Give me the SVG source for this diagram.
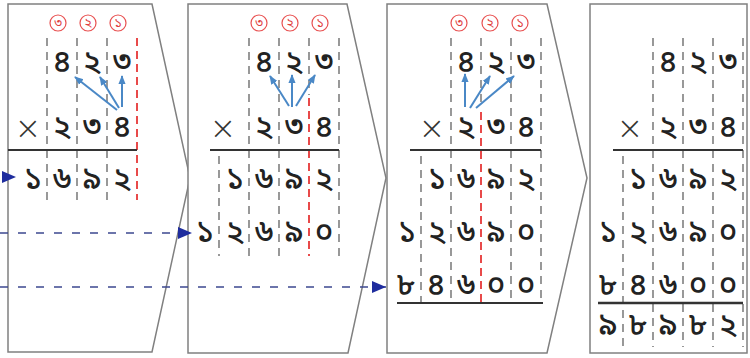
<svg xmlns="http://www.w3.org/2000/svg" width="750" height="358" viewBox="0 0 750 358">
<defs>
<marker id="tri" viewBox="0 0 14 12" refX="14" refY="6" markerWidth="14" markerHeight="12" markerUnits="userSpaceOnUse" orient="auto">
<path d="M0,0 L14,6 L0,12 Z" fill="#1f2d9e"/>
</marker>
<marker id="ba" viewBox="0 0 10 10" refX="9" refY="5" markerWidth="9" markerHeight="9" markerUnits="userSpaceOnUse" orient="auto">
<path d="M0,1 L10,5 L0,9 Z" fill="#4a88c6"/>
</marker>
</defs>
<style>
.panel{fill:#fff;stroke:#808080;stroke-width:1.5}
.g{stroke:#555;stroke-width:1.2;stroke-dasharray:8 6;fill:none}
.r{stroke:#e84a4a;stroke-width:2;stroke-dasharray:8 5;fill:none}
.ul{stroke:#333;stroke-width:2}
.d{font-family:"Noto Sans Bengali","Noto Sans","DejaVu Sans",sans-serif;font-size:31px;font-weight:500;fill:#222;text-anchor:middle}
.x{font-family:"DejaVu Sans","Liberation Sans",sans-serif;font-size:32px;font-weight:300;fill:#333;text-anchor:middle}
.c{fill:#fff;stroke:#e85050;stroke-width:1.2}
.ct{font-family:"Noto Sans Bengali","Noto Sans","DejaVu Sans",sans-serif;font-size:13px;fill:#e04040;text-anchor:middle}
.bl{stroke:#4a88c6;stroke-width:2;fill:none;marker-end:url(#ba)}
.nv{stroke:#3c4890;stroke-width:1.6;stroke-dasharray:8 10;fill:none;marker-end:url(#tri)}
</style>

<g id="panel1">
<polygon class="panel" points="8,4 152,4 190,178 152,352 8,352"/>
<circle class="c" cx="58" cy="23" r="8"/><text class="ct" x="58" y="27">৩</text>
<circle class="c" cx="88" cy="23" r="8"/><text class="ct" x="88" y="27">২</text>
<circle class="c" cx="118" cy="23" r="8"/><text class="ct" x="118" y="27">১</text>
<path class="g" d="M47,38 V200 M77,38 V200 M107,38 V200"/>
<path class="r" d="M137,38 V200"/>
<text class="d" x="62" y="72">৪</text><text class="d" x="92" y="72">২</text><text class="d" x="122" y="72">৩</text>
<text class="x" x="28" y="139">×</text>
<text class="d" x="62" y="137">২</text><text class="d" x="92" y="137">৩</text><text class="d" x="122" y="137">৪</text>
<line class="ul" x1="8" y1="150" x2="137" y2="150"/>
<text class="d" x="33" y="189">১</text><text class="d" x="62" y="189">৬</text><text class="d" x="92" y="189">৯</text><text class="d" x="122" y="189">২</text>
<path class="bl" d="M117,110 L75,77"/>
<path class="bl" d="M119,108 L100,77"/>
<path class="bl" d="M122,107 L122,76"/>
</g>

<g id="panel2">
<polygon class="panel" points="188,4 347,4 386,178 348,353 188,353"/>
<circle class="c" cx="259" cy="23" r="8"/><text class="ct" x="259" y="27">৩</text>
<circle class="c" cx="290" cy="23" r="8"/><text class="ct" x="290" y="27">২</text>
<circle class="c" cx="320" cy="23" r="8"/><text class="ct" x="320" y="27">১</text>
<path class="g" d="M249,38 V256 M279,38 V256 M339,38 V256 M309,38 V95 M219,156 V256"/>
<path class="r" d="M309,98 V256"/>
<text class="d" x="264" y="72">৪</text><text class="d" x="294" y="72">২</text><text class="d" x="324" y="72">৩</text>
<text class="x" x="223" y="139">×</text>
<text class="d" x="264" y="137">২</text><text class="d" x="294" y="137">৩</text><text class="d" x="324" y="137">৪</text>
<line class="ul" x1="210" y1="150" x2="339" y2="150"/>
<text class="d" x="235" y="189">১</text><text class="d" x="264" y="189">৬</text><text class="d" x="294" y="189">৯</text><text class="d" x="324" y="189">২</text>
<text class="d" x="205" y="242">১</text><text class="d" x="235" y="242">২</text><text class="d" x="264" y="242">৬</text><text class="d" x="294" y="242">৯</text><text class="d" x="324" y="242">০</text>
<path class="bl" d="M289,106 L270,76"/>
<path class="bl" d="M292,107 L292,75"/>
<path class="bl" d="M296,106 L315,75"/>
</g>

<g id="panel3">
<polygon class="panel" points="387,4 547,4 587,178 547,353 387,353"/>
<circle class="c" cx="459" cy="23" r="8"/><text class="ct" x="459" y="27">৩</text>
<circle class="c" cx="490" cy="23" r="8"/><text class="ct" x="490" y="27">২</text>
<circle class="c" cx="520" cy="23" r="8"/><text class="ct" x="520" y="27">১</text>
<path class="g" d="M451,38 V303 M511,38 V303 M541,38 V303 M481,38 V108 M421,156 V303"/>
<path class="r" d="M481,112 V303"/>
<text class="d" x="466" y="72">৪</text><text class="d" x="496" y="72">২</text><text class="d" x="526" y="72">৩</text>
<text class="x" x="432" y="139">×</text>
<text class="d" x="466" y="137">২</text><text class="d" x="496" y="137">৩</text><text class="d" x="526" y="137">৪</text>
<line class="ul" x1="410" y1="150" x2="541" y2="150"/>
<text class="d" x="437" y="189">১</text><text class="d" x="466" y="189">৬</text><text class="d" x="496" y="189">৯</text><text class="d" x="526" y="189">২</text>
<text class="d" x="407" y="242">১</text><text class="d" x="437" y="242">২</text><text class="d" x="466" y="242">৬</text><text class="d" x="496" y="242">৯</text><text class="d" x="526" y="242">০</text>
<text class="d" x="406" y="295">৮</text><text class="d" x="436" y="295">৪</text><text class="d" x="466" y="295">৬</text><text class="d" x="496" y="295">০</text><text class="d" x="526" y="295">০</text>
<line class="ul" x1="397" y1="303" x2="543" y2="303"/>
<path class="bl" d="M465,107 L465,74"/>
<path class="bl" d="M470,108 L490,76"/>
<path class="bl" d="M476,108 L514,76"/>
</g>

<g id="panel4">
<rect class="panel" x="590" y="4" width="157" height="349"/>
<path class="g" d="M653,38 V347 M683,38 V347 M713,38 V347 M743,38 V347 M623,156 V347"/>
<text class="d" x="668" y="72">৪</text><text class="d" x="698" y="72">২</text><text class="d" x="728" y="72">৩</text>
<text class="x" x="630" y="139">×</text>
<text class="d" x="668" y="137">২</text><text class="d" x="698" y="137">৩</text><text class="d" x="728" y="137">৪</text>
<line class="ul" x1="613" y1="150" x2="743" y2="150"/>
<text class="d" x="638" y="189">১</text><text class="d" x="668" y="189">৬</text><text class="d" x="698" y="189">৯</text><text class="d" x="728" y="189">২</text>
<text class="d" x="608" y="242">১</text><text class="d" x="638" y="242">২</text><text class="d" x="668" y="242">৬</text><text class="d" x="698" y="242">৯</text><text class="d" x="728" y="242">০</text>
<text class="d" x="608" y="295">৮</text><text class="d" x="638" y="295">৪</text><text class="d" x="668" y="295">৬</text><text class="d" x="698" y="295">০</text><text class="d" x="728" y="295">০</text>
<line class="ul" x1="598" y1="303" x2="743" y2="303" style="stroke-width:2.5"/>
<text class="d" x="608" y="335">৯</text><text class="d" x="638" y="335">৮</text><text class="d" x="668" y="335">৯</text><text class="d" x="698" y="335">৮</text><text class="d" x="728" y="335">২</text>
</g>

<g id="connectors">
<path class="nv" d="M-30,177 L16,177" style="stroke-dasharray:none;stroke-width:0"/>
<path class="nv" d="M0,233 L192,233"/>
<path class="nv" d="M0,287 L386,287"/>
</g>
</svg>
